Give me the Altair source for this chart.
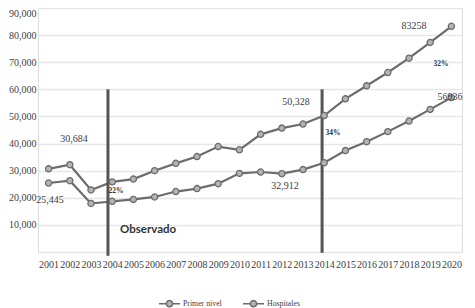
import altair as alt
import pandas as pd

years = list(range(2001, 2021))
hospitales = [30684, 32200, 22900, 25860, 26900, 30000, 32700, 35200, 38900, 37700,
              43400, 45700, 47200, 50328, 56500, 61300, 66200, 71500, 77300, 83258]
primer_nivel = [25445, 26300, 17900, 18700, 19400, 20300, 22300, 23400, 25200, 29000,
                29500, 28900, 30400, 32912, 37400, 40700, 44400, 48300, 52600, 56936]
series_names = ["Primer nivel", "Hospitales"]

# annotations
ann_text = ["30,684", "25,445", "50,328", "32,912", "83258", "56936"]
ann_x = [2002.2, 2001.07, 2012.67, 2012.15, 2018.24, 2019.93]
ann_y = [41680, 19180, 55330, 24340, 83360, 57170]
pct_text = ["22%", "34%", "32%"]
pct_x = [2004.18, 2014.41, 2019.51]
pct_y = [22500, 43890, 69340]
obs_text = ["Observado"]
obs_x = [2004.37]
obs_y = [8115]
rule_x = [2003.8, 2013.9]
rule_top = [60000, 60000]
rule_bottom = [-1400, -300]

rows = []
for i, yr in enumerate(years):
    rows.append({"year": yr, "value": primer_nivel[i], "serie": "Primer nivel"})
    rows.append({"year": yr, "value": hospitales[i], "serie": "Hospitales"})
df = pd.DataFrame(rows)

ann_df = pd.DataFrame({"t": ann_text, "x": ann_x, "y": ann_y})
pct_df = pd.DataFrame({"t": pct_text, "x": pct_x, "y": pct_y})
obs_df = pd.DataFrame({"t": obs_text, "x": obs_x, "y": obs_y})
rule_df = pd.DataFrame({"x": rule_x, "y": rule_top, "y2": rule_bottom})

LINE = "#6c6c6c"
FILLC = "#b4b4b4"
TXT = "#404040"

xscale = alt.Scale(domain=[2000.5, 2020.5], nice=False, zero=False)
yscale = alt.Scale(domain=[0, 90000], nice=False)

xaxis = alt.Axis(values=years, format="d", grid=False, domain=False, ticks=False,
                 labelFont="Liberation Serif", labelFontSize=10, labelColor=TXT,
                 labelPadding=7, title=None, labelOverlap=False)
yaxis = alt.Axis(values=list(range(0, 90001, 10000)), domain=False, ticks=False,
                 grid=True, gridColor="#e6e6e6", gridWidth=1.5,
                 labelFont="Liberation Serif", labelFontSize=10, labelColor=TXT,
                 labelPadding=2, title=None, labelFlush=True, labelFlushOffset=0,
                 labelExpr="datum.value == 0 ? '' : format(datum.value, ',')")


def X(field):
    return alt.X(field, scale=xscale, axis=xaxis)


def Y(field):
    return alt.Y(field, scale=yscale, axis=yaxis)


base = alt.Chart(df)

lines = base.mark_line(color=LINE, strokeWidth=2.2).encode(
    x=X("year:Q"), y=Y("value:Q"), detail="serie:N",
)

sym = "M-1,0H-0.3M0.3,0H1M0.3,0A0.3,0.3,0,1,1,-0.3,0A0.3,0.3,0,1,1,0.3,0"

points = base.mark_point(filled=True, fill=FILLC, stroke=LINE, strokeWidth=1.3,
                         size=38, opacity=1).encode(
    x=X("year:Q"), y=Y("value:Q"),
    stroke=alt.Stroke("serie:N",
                      scale=alt.Scale(domain=series_names, range=[LINE, LINE]),
                      legend=alt.Legend(title=None, orient="none", direction="horizontal",
                                        legendX=120, legendY=284,
                                        symbolType=sym, symbolSize=441,
                                        symbolFillColor=FILLC, symbolStrokeWidth=1.5,
                                        labelFont="Liberation Serif", labelFontSize=7.8,
                                        labelColor=TXT, labelOffset=2, columnPadding=18)),
)

rules = alt.Chart(rule_df).mark_rule(color="#555555", strokeWidth=3, clip=False).encode(
    x=X("x:Q"), y=Y("y:Q"), y2="y2:Q",
)

ann = alt.Chart(ann_df).mark_text(font="Liberation Serif", fontSize=10, color=TXT).encode(
    x=X("x:Q"), y=Y("y:Q"), text="t:N")

pct = alt.Chart(pct_df).mark_text(font="Liberation Serif", fontSize=7.5, fontWeight="bold",
                                   color="#333333").encode(
    x=X("x:Q"), y=Y("y:Q"), text="t:N")

obs = alt.Chart(obs_df).mark_text(font="Lato", fontSize=11.5, fontWeight="bold", color="#333333",
                                   align="left").encode(
    x=X("x:Q"), y=Y("y:Q"), text="t:N")

chart = alt.layer(lines, rules, points, ann, pct, obs).properties(
    width=424, height=244,
    autosize=alt.AutoSizeParams(type="none"),
    padding={"left": 30, "top": 0, "right": 5, "bottom": 56},
).configure_view(stroke=None).configure(background="white")

chart.save("out.html", embed_options={"renderer": "svg", "actions": False})
